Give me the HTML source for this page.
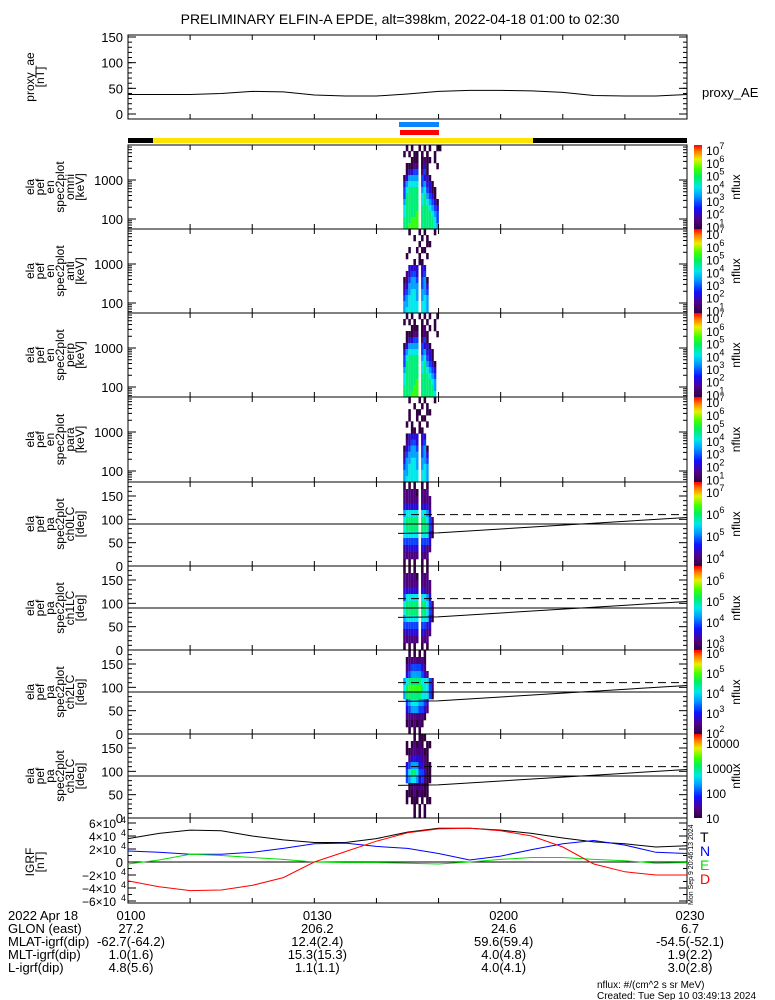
<!DOCTYPE html>
<html><head><meta charset="utf-8">
<style>
html,body{margin:0;padding:0;background:#fff;}
svg{display:block;font-family:"Liberation Sans",sans-serif;}
</style></head>
<body>
<svg id="root" width="775" height="1000" viewBox="0 0 775 1000" xmlns="http://www.w3.org/2000/svg">
<defs>
<linearGradient id="cmap" x1="0" y1="1" x2="0" y2="0">
<stop offset="0" stop-color="#300040"/><stop offset="0.12" stop-color="#50008a"/><stop offset="0.25" stop-color="#1010ff"/><stop offset="0.4" stop-color="#00a0ff"/><stop offset="0.5" stop-color="#00e8e8"/><stop offset="0.62" stop-color="#00f060"/><stop offset="0.72" stop-color="#40ff00"/><stop offset="0.83" stop-color="#e8f000"/><stop offset="0.92" stop-color="#ff8000"/><stop offset="1" stop-color="#ff0000"/>
</linearGradient>
</defs>
<text x="400" y="24" font-size="14" text-anchor="middle">PRELIMINARY ELFIN-A EPDE, alt=398km, 2022-04-18 01:00 to 02:30</text>
</svg>
<script>
// ---- data ----
const timeMinutes = [0,5,10,15,20,25,30,35,40,45,50,55,60,65,70,75,80,85,90];
const proxyAE = [38,38,38,40,44,43,37,35,35,39,44,46,46,45,42,36,35,35,38];
const igrfT = [3.6,4.4,4.9,4.8,4.0,3.4,3.0,3.0,3.6,4.6,5.2,5.2,4.9,4.4,3.7,3.1,2.8,2.3,2.5];
const igrfN = [1.7,1.5,1.2,1.2,1.5,2.1,2.8,2.9,2.4,2.1,1.3,0.3,0.9,1.9,2.8,3.3,2.6,1.5,1.3];
const igrfE = [-0.3,0.3,1.2,1.0,0.7,0.4,0.0,-0.1,-0.1,-0.2,-0.3,0.0,0.4,0.7,0.7,0.4,0.2,-0.2,-0.1];
const igrfD = [-2.9,-3.8,-4.4,-4.3,-3.6,-2.4,0.0,1.6,3.2,4.5,5.1,5.2,4.8,4.0,2.3,-0.3,-1.5,-2.0,-2.0];
const specStartMin = 43.9, specColMin = 0.41;
const omniRows = ["0010100101010011","0101011010100100","0000111012110100","0011122013100010","0013344024100000","0135555043310000","0356666045331000","0467777056431100","0477777067543100","0577777067654310","0677777077765430","0677778077776540","0777888077777640","0778888077777650"];
const antiRows = ["0001000101000100","0000010010100000","0000000100110000","0001001011000000","0010000100100000","0000010110000000","0003333033000000","0023443034000000","0124554045100000","0235555045300000","0345665055400000","0456665056500000","0556666066500000","0566666066500000"];
const perpRows = ["0010100101010010","0101010010100100","0000111012010100","0011122012100010","0013344024100000","0135555043310000","0356666045331000","0467777056431000","0477777067543100","0577777067654300","0677777077765400","0677778077776500","0777788077777500","0777888077777600"];
const paraRows = ["0001000101000100","0000010010100000","0001001100110000","0001001011000000","0010100100100000","0000110110000000","0013333033000000","0023443034000000","0134554045100000","0245555045300000","0355665055400000","0456665056500000","0556666066500000","0566666066500000"];
const ch0Rows = ["01010100101000","02222210222000","02222220222200","03333330333200","05666660665300","06777770776420","06777770777420","06666660666310","04444440444300","02333330332200","02222220222000","01010100101000"];
const ch1Rows = ["01010100101000","02222210222000","02222220222200","03333330332200","04666660665300","06777770776420","06777770776420","05666660666310","04444440443300","02333330332200","02222220222000","01010100101000"];
const ch2Rows = ["00010101010000","00122222210000","00234444320000","00345555432000","05677777666420","06788888766420","05777777666410","00456665543000","00345554432000","00222222210000","00121212100000","00010101000000"];
const ch3Rows = ["00000101110000","00101212101100","00112222211000","00023333221000","00345553321100","00467764431100","00456653421100","00012222211000","00111212111000","00101110101100","00000101010000","00000101010000"];
const tickTimes = [0,10,20,30,40,50,60,70,80,90];
const bottomTimes = [0,30,60,90];
const bottomLabels = ["0100","0130","0200","0230"];
const glonVals = ["27.2","206.2","24.6","6.7"];
const mlatVals = ["-62.7(-64.2)","12.4(2.4)","59.6(59.4)","-54.5(-52.1)"];
const mltVals = ["1.0(1.6)","15.3(15.3)","4.0(4.8)","1.9(2.2)"];
const lVals = ["4.8(5.6)","1.1(1.1)","4.0(4.1)","3.0(2.8)"];

// ---- helpers ----
const NS="http://www.w3.org/2000/svg";
const root=document.getElementById('root');
const X0=128,X1=687;
function xT(m){return X0+(X1-X0)*m/90;}
function mk(tag,a,p){const e=document.createElementNS(NS,tag);for(const k in a)e.setAttribute(k,a[k]);(p||root).appendChild(e);return e;}
function line(x1,y1,x2,y2,p,extra){return mk('line',Object.assign({x1,y1,x2,y2,stroke:'#000','stroke-width':1},extra||{}),p);}
function txt(x,y,s,p,a){const e=mk('text',Object.assign({x,y,'font-size':12},a||{}),p);e.textContent=s;return e;}
const stops=[[0,[48,0,64]],[0.12,[80,0,138]],[0.25,[16,16,255]],[0.4,[0,160,255]],[0.5,[0,232,232]],[0.62,[0,240,96]],[0.72,[64,255,0]],[0.83,[232,240,0]],[0.92,[255,128,0]],[1,[255,0,0]]];
function cmap(f){f=Math.max(0,Math.min(1,f));for(let i=1;i<stops.length;i++){if(f<=stops[i][0]){const a=stops[i-1],b=stops[i];const t=(f-a[0])/(b[0]-a[0]);const c=a[1].map((v,j)=>Math.round(v+(b[1][j]-v)*t));return 'rgb('+c.join(',')+')';}}return 'rgb(255,0,0)';}
function timeTicks(g,top,bot){tickTimes.forEach(m=>{const x=xT(m);line(x,bot,x,bot-5,g);line(x,top,x,top+5,g);});}
function ylabel(g,lines,cy){const n=lines.length;lines.forEach((s,i)=>{const x=34+i*10;const t=txt(x,cy,s,g,{'text-anchor':'middle',transform:'rotate(-90 '+x+' '+cy+')','font-size':12});});}
function colorbar(g,top,bot,lmin,lmax,labels,plain){
  const cb=mk('rect',{x:694,y:top,width:8,height:bot-top,fill:'url(#cmap)'},g);
  
  
  labels.forEach(L=>{const y=bot-(L-lmin)/(lmax-lmin)*(bot-top);
    if(plain){txt(706,y+5,String(Math.pow(10,L)),g,{'font-size':12});}
    else{const t=txt(706,y+5,'10',g,{'font-size':12});const s=mk('tspan',{dy:-6,'font-size':9},t);s.textContent=String(L);}});
  const cy=(top+bot)/2,nx=740;
  txt(nx,cy,'nflux',g,{'text-anchor':'middle',transform:'rotate(-90 '+nx+' '+cy+')','font-size':12});
}
function heat(g,rows,top,bot,nc){
  const nr=rows.length,h=(bot-top)/nr;
  rows.forEach((r,i)=>{for(let j=0;j<r.length;j++){const d=+r[j];if(!d)continue;
    const xa=xT(specStartMin+j*specColMin*(16/nc)),xb=xT(specStartMin+(j+1)*specColMin*(16/nc));
    const c=mk('rect',{x:xa.toFixed(2),y:(top+i*h).toFixed(2),width:(xb-xa).toFixed(2),height:(h+0.3).toFixed(2),fill:cmap((d-1)/10)},g);
    
    }});
}

// ---- proxy AE panel ----
(function(){
  const g=mk('g',{});
  
  
  const top=35,bot=119;const yv=v=>114-(v/150)*77;
  mk('rect',{x:X0,y:top,width:X1-X0,height:bot-top,fill:'none',stroke:'#000'},g);
  timeTicks(g,top,bot);
  [0,50,100,150].forEach(v=>{line(X0,yv(v),X0+8,yv(v),g);line(X1,yv(v),X1-8,yv(v),g);txt(X0-5,yv(v)+5,String(v),g,{'text-anchor':'end','font-size':13});});
  for(let v=10;v<=150;v+=10){line(X0,yv(v),X0+4,yv(v),g);line(X1,yv(v),X1-4,yv(v),g);}
  const p=mk('polyline',{points:timeMinutes.map((m,i)=>xT(m)+','+yv(proxyAE[i]).toFixed(1)).join(' '),fill:'none',stroke:'#000'},g);
  
  
  ylabel(g,['proxy_ae','[nT]'],77);
  txt(702,97,'proxy_AE',g,{'font-size':13});
})();

// ---- status bars ----
(function(){
  const g=mk('g',{});
  
  
  const b=mk('rect',{x:399,y:122,width:40,height:5,fill:'#0a84ff'},g);
  
  
  const r=mk('rect',{x:400,y:130,width:39,height:5,fill:'#ff0000'},g);
  
  
  mk('rect',{x:X0,y:138,width:25,height:5,fill:'#000'},g);
  const y=mk('rect',{x:153,y:138,width:380,height:5,fill:'#ffe400'},g);
  
  
  mk('rect',{x:533,y:138,width:X1-533,height:5,fill:'#000'},g);
})();

// ---- energy spectrogram panels ----
const ePanels=[['omni',omniRows,145,229],['anti',antiRows,229,313],['perp',perpRows,313,397],['para',paraRows,397,482]];
ePanels.forEach(([nm,rows,top,bot])=>{
  const g=mk('g',{});
  
  
  heat(g,rows,top,bot,16);
  mk('rect',{x:X0,y:top,width:X1-X0,height:bot-top,fill:'none',stroke:'#000'},g);
  timeTicks(g,top,bot);
  const y1000=top+35,dec=39;const yl=l=>y1000-(l-3)*dec;
  for(let d=1;d<=3;d++){for(let k=1;k<=9;k++){const l=d+Math.log10(k);const y=yl(l);if(y<top||y>bot)continue;const len=k===1?8:4;line(X0,y,X0+len,y,g);line(X1,y,X1-len,y,g);}}
  txt(X0-5,yl(3)+5,'1000',g,{'text-anchor':'end','font-size':13});
  txt(X0-5,yl(2)+5,'100',g,{'text-anchor':'end','font-size':13});
  ylabel(g,['ela','pef','en','spec2plot',nm,'[keV]'],(top+bot)/2);
  colorbar(g,top,bot,0.8,7.4,[1,2,3,4,5,6,7],false);
});

// ---- pitch angle panels ----
const pPanels=[['ch0LC',ch0Rows,482,566,3.63,7.45,[4,5,6,7],false],['ch1LC',ch1Rows,566,650,2.67,6.67,[3,4,5,6],false],['ch2LC',ch2Rows,650,734,1.95,6.15,[2,3,4,5,6],false],['ch3LC',ch3Rows,734,818,1.0,4.36,[1,2,3,4],true]];
pPanels.forEach(([nm,rows,top,bot,lmin,lmax,labs,plain])=>{
  const g=mk('g',{});
  
  
  heat(g,rows,top,bot,14*16/14);
  const ya=v=>bot-(v/180)*(bot-top);
  mk('rect',{x:X0,y:top,width:X1-X0,height:bot-top,fill:'none',stroke:'#000'},g);
  timeTicks(g,top,bot);
  for(let v=0;v<=180;v+=10){const len=v%50===0?8:4;line(X0,ya(v),X0+len,ya(v),g);line(X1,ya(v),X1-len,ya(v),g);}
  [0,50,100,150].forEach(v=>txt(X0-5,ya(v)+5,String(v),g,{'text-anchor':'end','font-size':13}));
  const h=line(X0,ya(90),X1,ya(90),g);
  
  
  const ds=line(398,ya(110),X1,ya(110),g,{'stroke-dasharray':'8,5'});
  
  
  const lc=mk('polyline',{points:'398,'+ya(70)+' 438,'+ya(71)+' '+X1+','+ya(104),fill:'none',stroke:'#000'},g);
  
  
  ylabel(g,['ela','pef','pa','spec2plot',nm,'[deg]'],(top+bot)/2);
  colorbar(g,top,bot,lmin,lmax,labs,plain);
});

// ---- IGRF panel ----
(function(){
  const g=mk('g',{});
  
  
  const top=818,bot=903;const yv=v=>862-v*6.5;
  mk('rect',{x:X0,y:top,width:X1-X0,height:bot-top,fill:'none',stroke:'#000'},g);
  timeTicks(g,top,bot);
  line(X0,yv(0),X1,yv(0),g);
  for(let v=-6;v<=6;v+=1){const len=v%2===0?8:4;line(X0,yv(v),X0+len,yv(v),g);line(X1,yv(v),X1-len,yv(v),g);}
  [6,4,2,-2,-4,-6].forEach(v=>{const t=txt(X0-12,yv(v)+5,(v<0?'\u2212':'')+Math.abs(v)+'\u00d710',g,{'text-anchor':'end','font-size':12});const s=mk('tspan',{x:X0-2,dy:-5,'font-size':9,'text-anchor':'end'},g);});
  [6,4,2,-2,-4,-6].forEach(v=>txt(X0-2,yv(v),'4',g,{'text-anchor':'end','font-size':9}));
  txt(X0-5,yv(0)+5,'0',g,{'text-anchor':'end','font-size':13});
  const series=[['T',igrfT,'#000'],['N',igrfN,'#0000ff'],['E',igrfE,'#00e000'],['D',igrfD,'#ff0000']];
  series.forEach(([n,arr,c],i)=>{
    const p=mk('polyline',{points:timeMinutes.map((m,k)=>xT(m).toFixed(1)+','+yv(arr[k]).toFixed(1)).join(' '),fill:'none',stroke:c},g);
    
    
    const t=txt(700,842+i*14,n,g,{'font-size':14,fill:c});
    
    
  });
  ylabel(g,['IGRF','[nT]'],862);
  const st=txt(693,905,'Mon Sep 9 20:46:13 2024',g,{'font-size':7,transform:'rotate(-90 693 905)'});
})();

// ---- bottom annotation ----
(function(){
  const g=mk('g',{'font-size':13});
  
  
  const rowsY=[920,933,946,959,972];
  const leftLab=['2022 Apr 18','GLON (east)','MLAT-igrf(dip)','MLT-igrf(dip)','L-igrf(dip)'];
  leftLab.forEach((s,i)=>txt(8,rowsY[i],s,g,{'font-size':13}));
  const cols=[bottomLabels,glonVals,mlatVals,mltVals,lVals];
  cols.forEach((arr,i)=>arr.forEach((s,k)=>txt(xT(bottomTimes[k])+(i===0?3:3),rowsY[i],s,g,{'text-anchor':'middle','font-size':13})));
  txt(597,988,'nflux: #/(cm^2 s sr MeV)',g,{'font-size':10});
  txt(597,999,'Created: Tue Sep 10 03:49:13 2024',g,{'font-size':10});
})();
</script>
</body></html>
